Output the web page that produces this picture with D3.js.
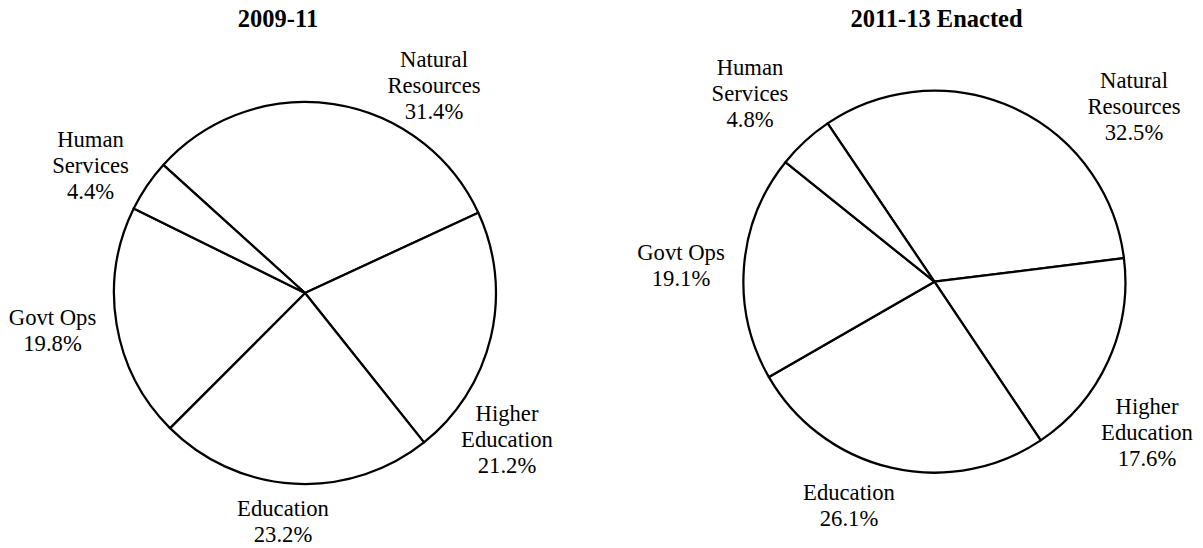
<!DOCTYPE html>
<html>
<head>
<meta charset="utf-8">
<script src="https://cdn.jsdelivr.net/npm/d3@7"></script>
<style>
  body { margin: 0; background: #fff; }
</style>
</head>
<body>
<div class="chart"></div>
<script>
// categories in drawing order (clockwise from Natural Resources)
var categories = ["Natural Resources", "Higher Education", "Education", "Govt Ops", "Human Services"];
var labelLines = [["Natural", "Resources"], ["Higher", "Education"], ["Education"], ["Govt Ops"], ["Human", "Services"]];

var titles = ["2009-11", "2011-13 Enacted"];
var values0911 = [31.4, 21.2, 23.2, 19.8, 4.4];
var values1113 = [32.5, 17.6, 26.1, 19.1, 4.8];

// layout
var svgWidth = 1203, svgHeight = 548;
var radius = 191;
var font = "'Liberation Serif', 'Times New Roman', Tinos, serif";
var labelSize = 22.67, titleSize = 24.5, lineH = 26;
// label offsets: [x of text centre, baseline of first line] relative to pie centre
var pies = [
    { title: titles[0], values: values0911, cx: 305, cy: 293, start: -47.9, titleX: 278,
      labelOff: [[129, -226], [202, 128], [-22, 223], [-252.5, 32], [-214.5, -146]] },
    { title: titles[1], values: values1113, cx: 934.4, cy: 281.7, start: -34, titleX: 936.5,
      labelOff: [[199.6, -193.4], [212.6, 132.3], [-85.4, 218.3], [-253.4, -21.7], [-184.4, -206.7]] }
];

var svg = d3.select(".chart").append("svg")
    .attr("width", svgWidth).attr("height", svgHeight);

var arc = d3.arc().innerRadius(0).outerRadius(radius);

pies.forEach(function(p) {
    var rad = p.start * Math.PI / 180;
    var pie = d3.pie().sort(null).value(d => d)
        .startAngle(rad).endAngle(rad + 2 * Math.PI);

    svg.append("text")
        .attr("x", p.titleX).attr("y", 27.3)
        .attr("text-anchor", "middle")
        .attr("font-family", font)
        .attr("font-size", titleSize).attr("font-weight", "bold")
        .text(p.title);

    var g = svg.append("g")
        .attr("transform", `translate(${p.cx}, ${p.cy})`);

    g.selectAll("path")
        .data(pie(p.values))
        .enter()
        .append("path")
        .attr("d", arc)
        .attr("fill", "#fff")
        .attr("stroke", "#000")
        .attr("stroke-width", 2.25)
        .attr("stroke-linejoin", "round");

    p.values.forEach(function(v, i) {
        var lines = labelLines[i].concat([v.toFixed(1) + "%"]);
        var off = p.labelOff[i];
        var t = g.append("text")
            .attr("text-anchor", "middle")
            .attr("font-family", font)
            .attr("font-size", labelSize);
        lines.forEach(function(s, j) {
            t.append("tspan")
                .attr("x", off[0])
                .attr("y", off[1] + j * lineH)
                .text(s);
        });
    });
});
</script>
</body>
</html>
